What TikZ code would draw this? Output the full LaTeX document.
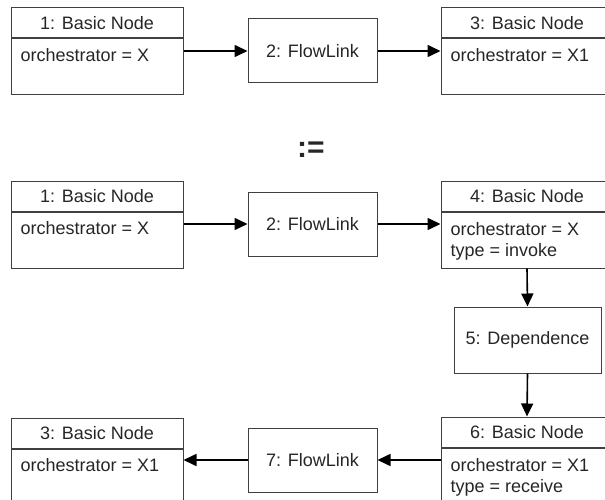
\documentclass[tikz,border=0pt]{standalone}
\usepackage{fontspec}
\setmainfont{Liberation Sans}
\usetikzlibrary{positioning,arrows.meta}
\definecolor{boxgray}{gray}{0.25}
\definecolor{txtgray}{gray}{0.15}
\tikzset{
  head/.style={draw=boxgray, line width=1pt, minimum width=172pt, minimum height=30pt, inner sep=0pt},
  body/.style={draw=boxgray, line width=1pt, minimum width=172pt, minimum height=56pt, inner sep=0pt},
  link/.style={draw=boxgray, line width=1pt, minimum width=129pt, minimum height=64pt, inner sep=0pt},
  attr/.style={anchor=base west, inner sep=0pt},
  flow/.style={line width=1.6pt, -{Triangle[length=13pt,width=12pt]}}
}
\begin{document}
\begin{tikzpicture}[x=1pt, y=-1pt, font=\fontsize{18}{21}\selectfont, text=txtgray]
    \clip (0,0) rectangle (605,500);

    % upper mapping
    \node[head] (b1h) at (97,23) {1: Basic Node};
    \node[body, below=0pt of b1h] (b1) {};
    \node[attr] (b1a) at ([shift={(10pt,-23pt)}]b1.north west) {orchestrator = X};
    \node[link] (fl2) at (312.5,51) {2: FlowLink};
    \node[head] (b3h) at (527,23) {3: Basic Node};
    \node[body, below=0pt of b3h] (b3) {};
    \node[attr] (b3a) at ([shift={(10pt,-23pt)}]b3.north west) {orchestrator = X1};
    \draw[flow] (b1.east |- fl2.west) -- (fl2.west);
    \draw[flow] (fl2.east) -- (fl2.east -| b3.west);

    \node[font=\fontsize{30}{30}\selectfont\bfseries] (defeq) at (311,150) {:=};

    % lower mapping
    \node[head] (m1h) at (97,196) {1: Basic Node};
    \node[body, below=0pt of m1h] (m1) {};
    \node[attr] (m1a) at ([shift={(10pt,-23pt)}]m1.north west) {orchestrator = X};
    \node[link] (fl2b) at (312.5,224) {2: FlowLink};
    \node[head] (m4h) at (527,196) {4: Basic Node};
    \node[body, below=0pt of m4h] (m4) {};
    \node[attr] (m4a) at ([shift={(10pt,-24pt)}]m4.north west) {orchestrator = X};
    \node[attr] (m4b) at ([shift={(10pt,-45pt)}]m4.north west) {type = invoke};
    \node[link, minimum width=147pt, minimum height=66pt] (dep5) at (527.5,340) {5: Dependence};
    \node[head] (m6h) at (527,432) {6: Basic Node};
    \node[body, below=0pt of m6h] (m6) {};
    \node[attr] (m6a) at ([shift={(10pt,-24pt)}]m6.north west) {orchestrator = X1};
    \node[attr] (m6b) at ([shift={(10pt,-45pt)}]m6.north west) {type = receive};
    \node[link] (fl7) at (312.5,460) {7: FlowLink};
    \node[head] (m3h) at (97,433) {3: Basic Node};
    \node[body, below=0pt of m3h] (m3) {};
    \node[attr] (m3a) at ([shift={(10pt,-23pt)}]m3.north west) {orchestrator = X1};

    \draw[flow] (m1.east |- fl2b.west) -- (fl2b.west);
    \draw[flow] (fl2b.east) -- (fl2b.east -| m4.west);
    \draw[flow] (m4.south) -- (dep5.north);
    \draw[flow] (dep5.south) -- (m6h.north);
    \draw[flow] (m6.west |- fl7.east) -- (fl7.east);
    \draw[flow] (fl7.west) -- (fl7.west -| m3.east);
\end{tikzpicture}
\end{document}
